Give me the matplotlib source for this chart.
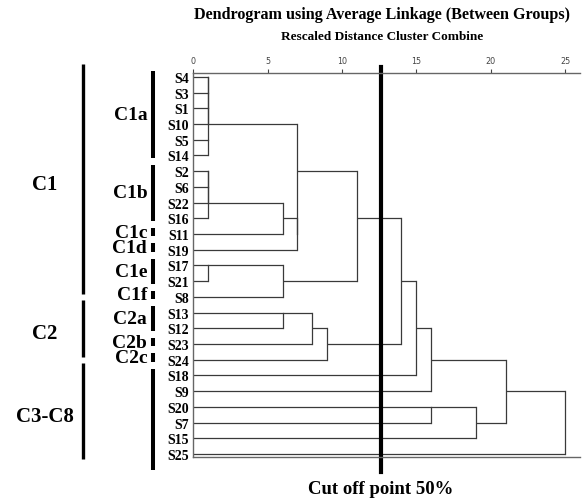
import matplotlib
matplotlib.use("Agg")
import matplotlib.pyplot as plt

# leaf order as in the SPSS dendrogram
leaves = ['S4', 'S3', 'S1', 'S10', 'S5', 'S14', 'S2', 'S6', 'S22', 'S16',
          'S11', 'S19', 'S17', 'S21', 'S8', 'S13', 'S12', 'S23', 'S24',
          'S18', 'S9', 'S20', 'S7', 'S15', 'S25']

# merges: (child a, child b, rescaled distance); ints point to earlier merges
merges = [
    ('S4', 'S3', 1), (0, 'S1', 1), (1, 'S10', 1), ('S5', 'S14', 1), (2, 3, 1),
    ('S2', 'S6', 1), (5, 'S22', 1), (6, 'S16', 1), (7, 'S11', 6), (8, 'S19', 7),
    (4, 9, 7), ('S17', 'S21', 1), (11, 'S8', 6), (10, 12, 11),
    ('S13', 'S12', 6), (14, 'S23', 8), (15, 'S24', 9), (13, 16, 14),
    (17, 'S18', 15), (18, 'S9', 16), ('S20', 'S7', 16), (20, 'S15', 19),
    (19, 21, 21), (22, 'S25', 25),
]

main_groups = [('C1', 'S4', 'S8'), ('C2', 'S13', 'S24'), ('C3-C8', 'S18', 'S25')]
sub_groups = [('C1a', 'S4', 'S14'), ('C1b', 'S2', 'S16'), ('C1c', 'S11', 'S11'),
              ('C1d', 'S19', 'S19'), ('C1e', 'S17', 'S21'), ('C1f', 'S8', 'S8'),
              ('C2a', 'S13', 'S12'), ('C2b', 'S23', 'S23'), ('C2c', 'S24', 'S24'),
              ('', 'S18', 'S25')]

cut_off = 12.6
x_ticks = [0, 5, 10, 15, 20, 25]

serif = 'Liberation Serif'
line_col = '#3a3a3a'

fig = plt.figure(figsize=(5.82, 5.02), dpi=100)
ax = fig.add_axes([0.3321, 0.0867, 0.6643, 0.7659])

row = {name: i for i, name in enumerate(leaves)}
pos = []      # output row of each merge
height = []   # height of each merge


def child_info(c):
    if isinstance(c, int):
        return pos[c], height[c]
    return row[c], 0


for a, b, h in merges:
    ya, ha = child_info(a)
    yb, hb = child_info(b)
    ax.plot([ha, h], [ya, ya], color=line_col, lw=0.9, solid_capstyle='butt')
    ax.plot([hb, h], [yb, yb], color=line_col, lw=0.9, solid_capstyle='butt')
    ax.plot([h, h], [ya, yb], color=line_col, lw=0.9)
    pos.append((ya + yb) // 2)
    height.append(h)

ax.set_xlim(0, 26)
ax.set_ylim(24.22, -0.25)

ax.xaxis.tick_top()
ax.set_xticks(x_ticks)
ax.tick_params(axis='x', length=3, width=0.8, pad=2.5, labelsize=5.8,
               colors='#444444')
ax.set_yticks(range(len(leaves)))
ax.set_yticklabels(leaves, fontfamily=serif, fontweight='bold', fontsize=10)
ax.tick_params(axis='y', length=0, pad=3)

ax.spines['right'].set_visible(False)
for s in ['top', 'left', 'bottom']:
    ax.spines[s].set_color('#666666')
    ax.spines[s].set_linewidth(1.0)

# cut off line
ax.plot([cut_off, cut_off], [-0.64, 25.14], color='black', lw=3, clip_on=False)

# group bars and labels on the left
for name, first, last in main_groups:
    y0, y1 = row[first] - 0.8, row[last] - 0.2
    if last == leaves[-1]:
        y1 = row[last] + 0.3
    ax.plot([-7.4, -7.4], [y0, y1], color='black', lw=2.4, clip_on=False,
            solid_capstyle='butt')
    ax.text(-10.0, (y0 + y1) / 2 + 0.3, name, ha='center', va='center',
            fontfamily=serif, fontweight='bold', fontsize=15)

for name, first, last in sub_groups:
    y0, y1 = row[first] - 0.4, row[last] + 0.15
    if last == leaves[-1]:
        y1 = row[last] + 1.0
    ax.plot([-2.7, -2.7], [y0, y1], color='black', lw=2.9, clip_on=False,
            solid_capstyle='butt')
    if name:
        ax.text(-3.1, (y0 + y1) / 2, name, ha='right', va='center',
                fontfamily=serif, fontweight='bold', fontsize=14)

fig.text(382 / 582, 1 - 15 / 502, 'Dendrogram using Average Linkage (Between Groups)',
         ha='center', va='center', fontfamily=serif, fontweight='bold', fontsize=11.6)
fig.text(382 / 582, 1 - 37 / 502, 'Rescaled Distance Cluster Combine',
         ha='center', va='center', fontfamily=serif, fontweight='bold', fontsize=9.5)
fig.text(381 / 582, 1 - 490 / 502, 'Cut off point 50%',
         ha='center', va='center', fontfamily=serif, fontweight='bold', fontsize=13.5)

fig.savefig('out.png', dpi=100)
